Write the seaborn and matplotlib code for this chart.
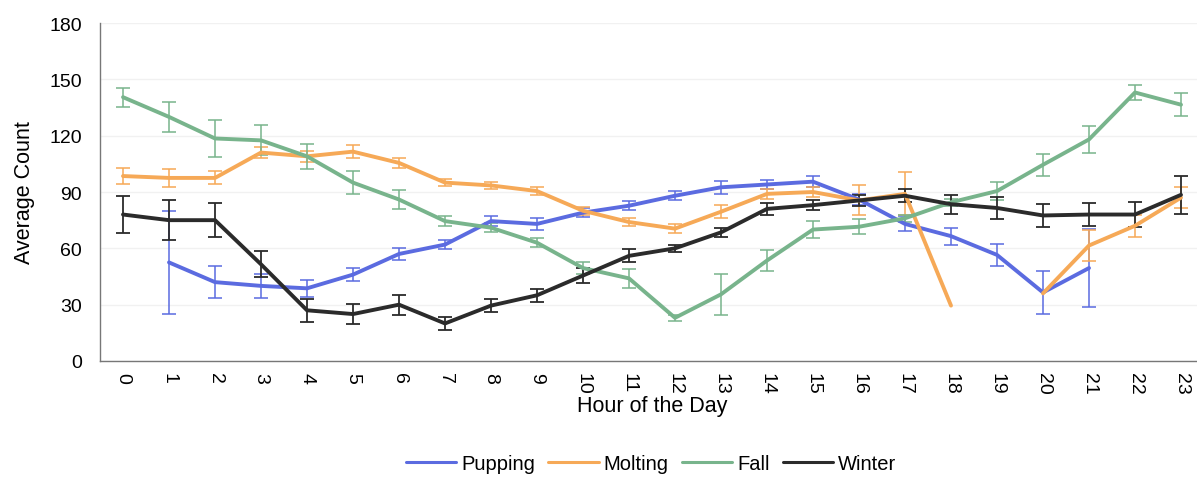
import numpy as np
import pandas as pd
import matplotlib
matplotlib.use("Agg")
import matplotlib.pyplot as plt
import seaborn as sns

hours = list(range(24))
hour_labels = [str(h) for h in hours]
seasons = ["Pupping", "Molting", "Fall", "Winter"]
colors = ["#5b6be0", "#f6a957", "#78b48c", "#2b2b2b"]

nan = np.nan
pupping = [nan, 52.5, 42, 40, 38.7, 46, 57, 62, 74.5, 73, 79, 82.7, 88, 92.5,
           94, 95.5, 86, 73, 66.5, 56.5, 36.5, 49.5, nan, nan]
pupping_err = [nan, 27.5, 8.5, 6.5, 4.5, 3.5, 3, 2.5, 2.5, 3, 2.5, 2.5, 2.5, 3.5,
               2.5, 3, 3, 4, 4.5, 6, 11.5, 21, nan, nan]
molting = [98.5, 97.5, 97.5, 111, 109, 111.5, 105.5, 95, 93.5, 90.5, 80, 74,
           70.5, 79.5, 89, 90, 85.5, 89, 29.5, nan, 36, 61.5, 72, 87]
molting_err = [4.5, 5, 3.5, 3, 3, 3.5, 2.5, 2, 2, 2, 2, 2, 2.5, 3.5, 2.5, 2.5,
               8, 11.5, nan, nan, nan, 8.5, 6, 5.5]
fall = [140.5, 130, 118.5, 117.5, 109, 95, 86, 74.5, 71, 63, 49.5, 44, 23,
        35.5, 53.5, 70, 71.5, 76, 84.5, 90.5, 104.5, 118, 143, 136.5]
fall_err = [5, 8, 10, 8, 6.5, 6, 5, 2.5, 2.5, 2.5, 3, 5, 1.5, 11, 5.5, 4.5, 4,
            2, 2, 5, 6, 7, 4, 6]
winter = [78, 75, 75, 51.5, 27, 25, 30, 20, 29.5, 35, 45.5, 56, 60, 68.5, 81,
          83, 85.5, 88, 83.5, 81.5, 77.5, 78, 78, 88.5]
winter_err = [10, 10.5, 9, 7, 6, 5.5, 5.3, 3.3, 3.5, 3.5, 4, 3.5, 2, 2.5, 3,
              2.7, 2.7, 3.5, 5, 6, 6, 6.2, 6.5, 10]

values = [pupping, molting, fall, winter]
errors = [pupping_err, molting_err, fall_err, winter_err]

# long-form table; a new segment starts after every missing hour so lines break there
rows = []
for name, vals, errs in zip(seasons, values, errors):
    seg = 0
    for h, v, e in zip(hours, vals, errs):
        if np.isnan(v):
            seg += 1
            continue
        rows.append({"hour": h, "count": v, "err": e, "season": name,
                     "segment": f"{name}-{seg}"})
df = pd.DataFrame(rows)

sns.set_theme(style="white")
plt.rcParams["font.family"] = ["Liberation Sans", "DejaVu Sans"]
plt.rcParams["text.color"] = "black"
plt.rcParams["axes.labelcolor"] = "black"
plt.rcParams["xtick.color"] = "black"
plt.rcParams["ytick.color"] = "black"

fig = plt.figure(figsize=(11.97, 5.02), dpi=100)
ax = fig.add_axes([100 / 1197, 140 / 502, 1104 / 1197, 338 / 502])

for name, col in zip(seasons, colors):
    sub = df[df["season"] == name]
    ax.errorbar(sub["hour"], sub["count"], yerr=sub["err"], fmt="none",
                ecolor=col, elinewidth=1.3, capsize=5, capthick=1.3,
                alpha=0.85 if name != "Winter" else 1.0, zorder=2)

sns.lineplot(data=df, x="hour", y="count", hue="season", hue_order=seasons,
             palette=colors, units="segment", estimator=None, linewidth=2.8,
             ax=ax, legend=False, zorder=3)

ax.set_xlim(-0.5, 23.5)
ax.set_ylim(0, 180)
ax.set_yticks(np.arange(0, 181, 30))
ax.set_xticks(hours)
ax.set_xticklabels(hour_labels, rotation=270, fontsize=14)
ax.set_xticks(np.arange(-0.5, 24, 1), minor=True)
ax.tick_params(axis="x", which="major", length=0, pad=8)
ax.tick_params(axis="x", which="minor", length=4, width=1, color="#555555",
               direction="out")
ax.tick_params(axis="y", length=3, width=1, color="#555555", direction="out",
               labelsize=14, pad=10, labelcolor="black")
ax.yaxis.grid(True, color="#f1f1f1", linewidth=1)
ax.set_axisbelow(True)

for side in ["top", "right"]:
    ax.spines[side].set_visible(False)
for side in ["left", "bottom"]:
    ax.spines[side].set_color("#777777")
    ax.spines[side].set_linewidth(1)

ax.set_xlabel("Hour of the Day", fontsize=15.5, labelpad=1)
ax.set_ylabel("Average Count", fontsize=15.5, labelpad=10)

handles = [plt.Line2D([], [], color=c, linewidth=2.2) for c in colors]
fig.legend(handles, seasons, loc="center", bbox_to_anchor=(0.544, 0.075),
           ncol=4, frameon=False, fontsize=14.5, handlelength=2.5,
           handletextpad=0.25, columnspacing=0.65)

fig.savefig("out.png", dpi=100)
